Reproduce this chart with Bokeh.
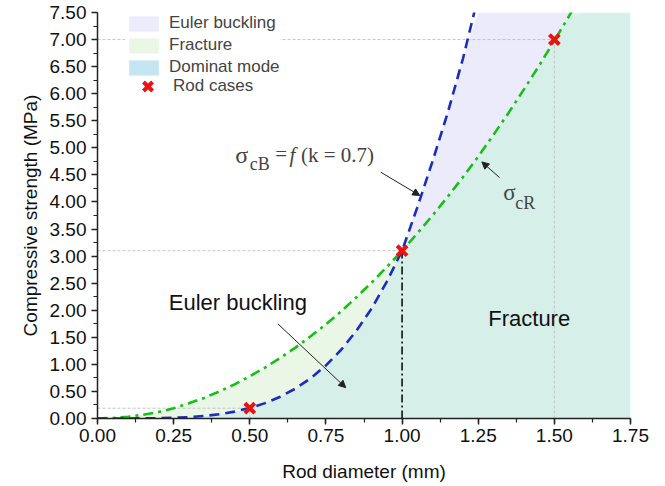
import numpy as np
from bokeh.plotting import figure
from bokeh.models import (Range1d, Legend, LegendItem, Arrow, NormalHead, Label,
                          SingleIntervalTicker, NumeralTickFormatter)
from bokeh.embed import file_html
from bokeh.resources import INLINE

# ---- data ----
diameter = [0.00, 0.05, 0.10, 0.15, 0.20, 0.25, 0.30, 0.35, 0.40, 0.45, 0.50,
            0.55, 0.60, 0.65, 0.70, 0.75, 0.80, 0.85, 0.90, 0.95, 1.00,
            1.05, 1.10, 1.15, 1.20, 1.25, 1.30, 1.35, 1.40, 1.45, 1.50,
            1.55, 1.60]
# fracture strength sigma_cR (green dash-dot)
sigma_cR = [0.00, 0.01, 0.03, 0.07, 0.12, 0.19, 0.28, 0.38, 0.50, 0.63, 0.78,
            0.94, 1.12, 1.31, 1.52, 1.74, 1.98, 2.24, 2.51, 2.80, 3.10,
            3.42, 3.75, 4.10, 4.46, 4.84, 5.24, 5.65, 6.08, 6.52, 6.98,
            7.45, 7.94]
# Euler buckling strength sigma_cB (blue dashed), up to d = 1.30
sigma_cB = [0.000, 0.000, 0.000, 0.002, 0.005, 0.012, 0.025, 0.047, 0.079, 0.127, 0.194,
            0.284, 0.402, 0.553, 0.744, 0.981, 1.27, 1.62, 2.03, 2.53, 3.10,
            3.90, 4.75, 5.65, 6.65, 7.80, 9.10]
rod_d = [0.5, 1.0, 1.5]
rod_s = [0.19, 3.10, 7.00]
x_end = 1.75
y_top = 7.5

# ---- derived arrays for fills ----
d = np.array(diameter)
gR = np.minimum(np.array(sigma_cR), y_top)
nB = len(sigma_cB)
gB = np.concatenate([np.minimum(np.array(sigma_cB), y_top), np.full(len(d) - nB, y_top)])
low = np.minimum(gR, gB)

FONT = "Liberation Sans"
SERIF = "Liberation Serif"
C_EB = "#ecebfc"
C_FR = "#eaf7e7"
C_DM = "#c5e5f2"
C_TEAL = "#d6efe9"

p = figure(width=665, height=486, output_backend="svg", toolbar_location=None,
           x_range=Range1d(0, x_end), y_range=Range1d(0, y_top),
           min_border_left=97, min_border_right=35, min_border_top=12, min_border_bottom=68)
p.outline_line_color = None
p.xgrid.visible = False
p.ygrid.visible = False
p.background_fill_color = "white"

# dominant mode region (below the min of both curves)
dx = np.concatenate([d, [x_end]])
dlow = np.concatenate([low, [y_top]])
p.varea(x=dx, y1=0, y2=dlow, fill_color=C_TEAL)
mask1 = d <= 1.0
r_fr = p.varea(x=d[mask1], y1=gB[mask1], y2=gR[mask1], fill_color=C_FR)
mask2 = d >= 1.0
r_eb = p.varea(x=d[mask2], y1=gR[mask2], y2=gB[mask2], fill_color=C_EB)
# zero-area swatch carrier for the legend entry "Dominat mode"
r_dm = p.varea(x=[x_end, x_end], y1=[0, 0], y2=[0, 0], fill_color=C_DM)

# reference lines
ref = dict(line_color="#c4c4c4", line_width=1, line_dash="3 2")
for xd, yd in zip(rod_d, rod_s):
    p.line([0, xd], [yd, yd], **ref)
p.line([rod_d[2], rod_d[2]], [0, rod_s[2]], **ref)
p.line([rod_d[0], rod_d[0]], [0, rod_s[0]], **ref)
p.line([rod_d[1], rod_d[1]], [0, rod_s[1]], line_color="black", line_width=1.5,
       line_dash="8 3 2 3")

# curves
p.line(d, sigma_cR, line_color="#14c014", line_width=2.6, line_dash="10 5 3 5")
p.line(d[:nB], sigma_cB, line_color="#1a2dbf", line_width=2.6, line_dash="10 6")

# rod cases
rods = p.scatter(rod_d, rod_s, marker="x", size=14, line_color="#ee1111", line_width=4)

legend1 = Legend(items=[LegendItem(label="Euler buckling", renderers=[r_eb]),
                        LegendItem(label="Fracture", renderers=[r_fr]),
                        LegendItem(label="Dominat mode", renderers=[r_dm])],
                 location=(28, 341), padding=4, margin=0, spacing=2,
                 glyph_width=37, glyph_height=19, label_height=19, label_standoff=7,
                 label_text_font=FONT, label_text_font_size="17px",
                 border_line_color=None, background_fill_color="white",
                 background_fill_alpha=1.0)
legend2 = Legend(items=[LegendItem(label="Rod cases", renderers=[rods])],
                 location=(32, 316), padding=0, margin=0, spacing=0,
                 glyph_width=37, glyph_height=32, label_height=32, label_standoff=7,
                 label_text_font=FONT, label_text_font_size="17px",
                 border_line_color=None, background_fill_alpha=0.0)
p.add_layout(legend1, "center")
p.add_layout(legend2, "center")

# annotations
p.add_layout(Label(x=0.234, y=2.14, text="Euler buckling", text_font=FONT,
                   text_font_size="22px", text_baseline="middle", text_color="#111111"))
p.add_layout(Label(x=1.283, y=1.85, text="Fracture", text_font=FONT,
                   text_font_size="22px", text_baseline="middle", text_color="#111111"))
head = dict(size=7, fill_color="#222222", line_color="#222222")
p.add_layout(Arrow(x_start=0.592, y_start=1.75, x_end=0.815, y_end=0.57,
                   line_color="#222222", line_width=1, end=NormalHead(**head)))
# sigma_cB label
p.add_layout(Label(x=0.452, y=4.86, text="σ", text_font=SERIF, text_font_size="24px",
                   text_baseline="middle"))
p.add_layout(Label(x=0.500, y=4.70, text="cB", text_font=SERIF, text_font_size="18px",
                   text_baseline="middle"))
p.add_layout(Label(x=0.584, y=4.88, text="=", text_font=SERIF, text_font_size="21px",
                   text_baseline="middle"))
p.add_layout(Label(x=0.630, y=4.86, text="f", text_font=SERIF, text_font_size="21px",
                   text_font_style="italic", text_baseline="middle"))
p.add_layout(Label(x=0.668, y=4.86, text="(k = 0.7)", text_font=SERIF, text_font_size="21px",
                   text_baseline="middle"))
p.add_layout(Arrow(x_start=0.93, y_start=4.55, x_end=1.058, y_end=4.12,
                   line_color="#222222", line_width=1, end=NormalHead(**head)))
# sigma_cR label
p.add_layout(Label(x=1.332, y=4.17, text="σ", text_font=SERIF, text_font_size="23px",
                   text_baseline="middle"))
p.add_layout(Label(x=1.372, y=3.99, text="cR", text_font=SERIF, text_font_size="18px",
                   text_baseline="middle"))
p.add_layout(Arrow(x_start=1.32, y_start=4.45, x_end=1.262, y_end=4.74,
                   line_color="#222222", line_width=1, end=NormalHead(**head)))

# axes
for ax, step in ((p.xaxis, 0.25), (p.yaxis, 0.5)):
    ax.ticker = SingleIntervalTicker(interval=step, num_minor_ticks=2)
    ax.formatter = NumeralTickFormatter(format="0.00")
    ax.axis_line_color = "#222222"
    ax.axis_line_width = 1.5
    ax.major_tick_line_color = "#222222"
    ax.minor_tick_line_color = "#222222"
    ax.major_tick_line_width = 1.5
    ax.minor_tick_line_width = 1.2
    ax.major_tick_out = 6
    ax.major_tick_in = 0
    ax.minor_tick_out = 4
    ax.minor_tick_in = 0
    ax.major_label_text_font = FONT
    ax.major_label_text_font_size = "19px"
    ax.major_label_text_color = "#111111"
    ax.axis_label_text_font = FONT
    ax.axis_label_text_font_size = "19px"
    ax.axis_label_text_font_style = "normal"
    ax.axis_label_text_color = "#111111"
p.xaxis.axis_label = "Rod diameter (mm)"
p.yaxis.axis_label = "Compressive strength (MPa)"
p.xaxis.major_label_standoff = 4
p.xaxis.axis_label_standoff = 16
p.yaxis.major_label_standoff = 5
p.yaxis.axis_label_standoff = 6

open("out.html", "w").write(file_html(p, INLINE))
